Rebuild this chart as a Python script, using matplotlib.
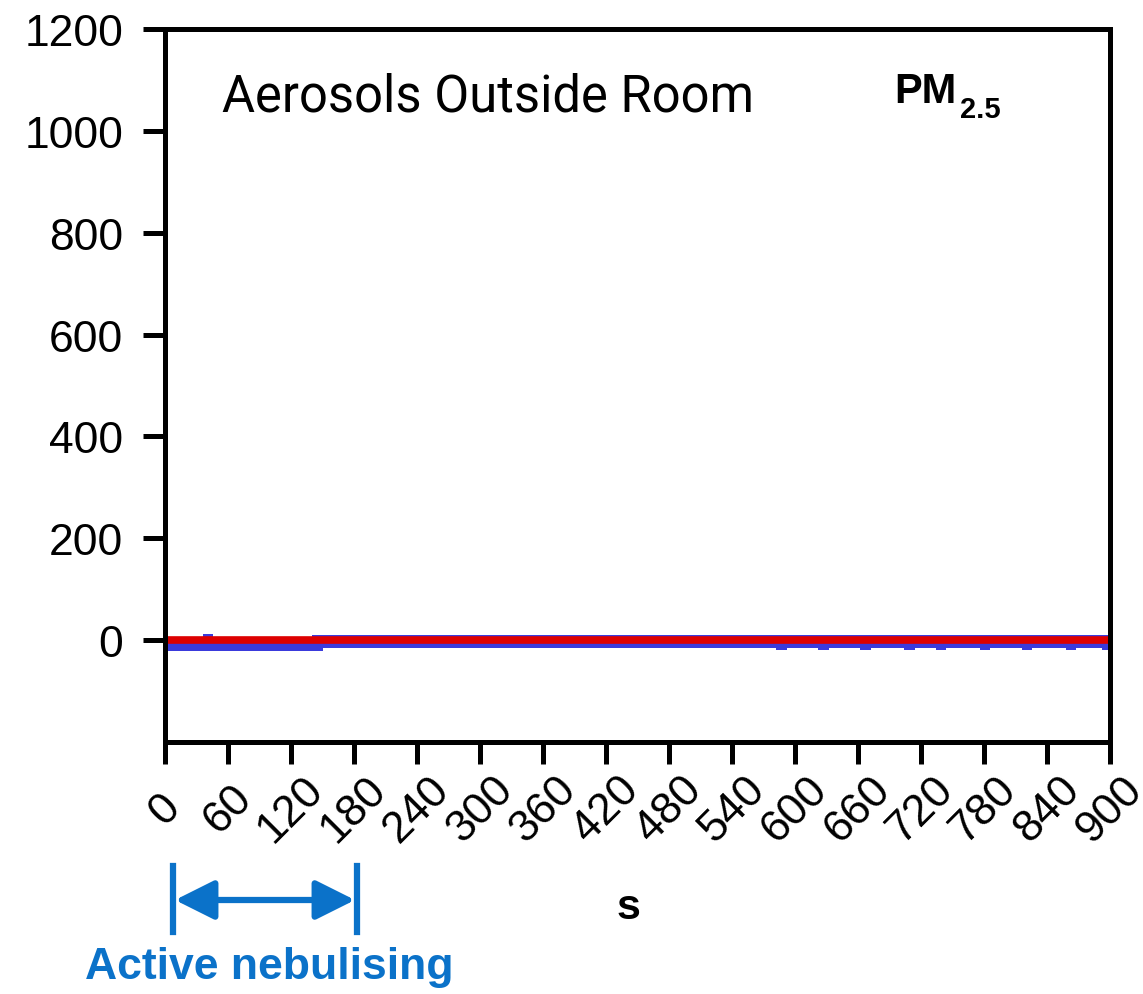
import matplotlib
matplotlib.use("Agg")
import matplotlib.pyplot as plt
import numpy as np
from matplotlib.lines import Line2D

# time (s) breakpoints of the step-wise SD band, with mean PM2.5 = 0 throughout
band_t = [0, 36, 46, 140, 150, 582, 592, 622, 632, 662, 672, 704, 714,
          734, 744, 776, 786, 816, 826, 858, 868, 892, 900]
band_hi = [4, 12, 4, 10, 10, 10, 10, 10, 10, 10, 10, 10, 10,
           10, 10, 10, 10, 10, 10, 10, 10, 10, 10]
band_lo = [-22, -22, -22, -22, -16, -20, -16, -20, -16, -20, -16, -20, -16,
           -20, -16, -20, -16, -20, -16, -20, -16, -20, -20]
mean_t = [0, 900]
mean_v = [0, 0]

xticks = list(range(0, 901, 60))
yticks = list(range(0, 1201, 200))

plt.rcParams['font.family'] = ['Liberation Sans', 'DejaVu Sans']

fig = plt.figure(figsize=(11.43, 9.95), dpi=100)
ax = fig.add_axes([0.1444, 0.2533, 0.9711 - 0.1444, 0.9698 - 0.2533])

ax.fill_between(band_t, band_lo, band_hi, step='post', color='#3a3adc',
                linewidth=0)
ax.plot(mean_t, mean_v, color='#dd0000', lw=5.5)

ax.set_xlim(0, 900)
ax.set_ylim(-200, 1200)
ax.set_xticks(xticks)
ax.set_yticks(yticks)
ax.set_xticklabels([str(t) for t in xticks], rotation=45, ha='center',
                   va='center')

for sp in ax.spines.values():
    sp.set_linewidth(3.6)
ax.tick_params(axis='both', direction='out', length=16, width=3.6,
               labelsize=32)
ax.tick_params(axis='x', pad=32)
ax.tick_params(axis='y', pad=14)

ax.text(0.06, 0.905, "Aerosols Outside Room", transform=ax.transAxes,
        fontsize=36.5, family=['Roboto', 'DejaVu Sans'], va='center')

# PM2.5 label, subscript drawn as its own smaller text
fig.text(894 / 1143, 1 - 103 / 995, "PM", fontsize=30, fontweight='bold',
         ha='left', va='baseline')
fig.text(960 / 1143, 1 - 118 / 995, "2.5", fontsize=21, fontweight='bold',
         ha='left', va='baseline')

# x label
fig.text(628 / 1143, 1 - 908 / 995, "s", fontsize=31, fontweight='bold',
         ha='center', va='center')

# active nebulising marker
blue = '#0b72c9'
y_arr = 1 - 901 / 995
ax_fig = fig.transFigure
fig.add_artist(Line2D([173 / 1143, 173 / 1143], [1 - 867 / 995, 1 - 933 / 995],
                      color=blue, lw=4.5, transform=ax_fig))
fig.add_artist(Line2D([357 / 1143, 357 / 1143], [1 - 867 / 995, 1 - 933 / 995],
                      color=blue, lw=4.5, transform=ax_fig))
ax.annotate("", xy=(355 / 1143, y_arr), xytext=(175 / 1143, y_arr),
            xycoords='figure fraction', textcoords='figure fraction',
            arrowprops=dict(arrowstyle='<|-|>,head_length=2.4,head_width=1.2',
                            color=blue, lw=4.5, shrinkA=0, shrinkB=0))
fig.text(269 / 1143, 1 - 968 / 995, "Active nebulising", fontsize=32,
         fontweight='bold', color=blue, ha='center', va='center')

fig.savefig("out.png", dpi=100)
